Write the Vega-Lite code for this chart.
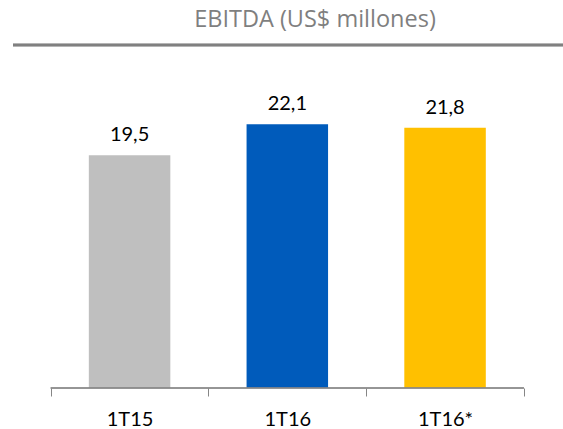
{
  "$schema": "https://vega.github.io/schema/vega-lite/v6.json",
  "autosize": "none",
  "width": 550,
  "height": 343,
  "padding": {"left": 13, "top": 45, "right": 0, "bottom": 41},
  "background": "white",
  "config": {
    "view": {"stroke": null},
    "font": "Lato",
    "locale": {"number": {"decimal": ",", "thousands": ".", "grouping": [3], "currency": ["US$", ""]}}
  },
  "title": {
    "text": "EBITDA (US$ millones)",
    "anchor": "middle",
    "dx": 27,
    "offset": 12,
    "font": "Open Sans",
    "fontSize": 23.5,
    "fontWeight": "normal",
    "color": "#7f7f7f"
  },
  "data": {
    "values": [
      {"period": "1T15", "idx": 1, "value": 19.5},
      {"period": "1T16", "idx": 2, "value": 22.1},
      {"period": "1T16*", "idx": 3, "value": 21.8}
    ]
  },
  "layer": [
    {
      "mark": {"type": "bar", "width": 81.5},
      "encoding": {
        "x": {
          "field": "idx",
          "type": "quantitative",
          "scale": {"domain": [0.2927, 3.716], "nice": false, "zero": false},
          "axis": {
            "values": [0.5, 1, 1.5, 2, 2.5, 3, 3.5],
            "title": null,
            "domain": false,
            "grid": false,
            "tickSize": 8,
            "tickColor": "#868686",
            "tickOpacity": {"condition": {"test": "datum.value % 1 !== 0", "value": 1}, "value": 0},
            "labelExpr": "datum.value == 1 ? '1T15' : datum.value == 2 ? '1T16' : datum.value == 3 ? '1T16*' : ''",
            "labelFont": "Lato",
            "labelFontSize": 20,
            "labelColor": "#000000",
            "labelPadding": 13,
            "labelFlush": false,
            "labelOverlap": false
          }
        },
        "y": {
          "field": "value",
          "type": "quantitative",
          "scale": {"domain": [0, 28.73], "nice": false},
          "axis": null
        },
        "color": {
          "field": "period",
          "type": "nominal",
          "scale": {"domain": ["1T15", "1T16", "1T16*"], "range": ["#BFBFBF", "#005BBB", "#FFC000"]},
          "legend": null
        }
      }
    },
    {
      "mark": {"type": "text", "baseline": "alphabetic", "dy": -14, "fontSize": 20, "font": "Lato", "color": "#000000"},
      "encoding": {
        "x": {"field": "idx", "type": "quantitative"},
        "y": {"field": "value", "type": "quantitative"},
        "text": {"field": "value", "type": "quantitative", "format": ".1f"}
      }
    },
    {
      "mark": {"type": "rule", "color": "#808080", "strokeWidth": 2.3},
      "encoding": {"y": {"datum": 28.73}}
    },
    {
      "mark": {"type": "rule", "color": "#868686", "strokeWidth": 1},
      "encoding": {
        "x": {"datum": 0.5},
        "x2": {"datum": 3.5},
        "y": {"datum": 0}
      }
    }
  ]
}
